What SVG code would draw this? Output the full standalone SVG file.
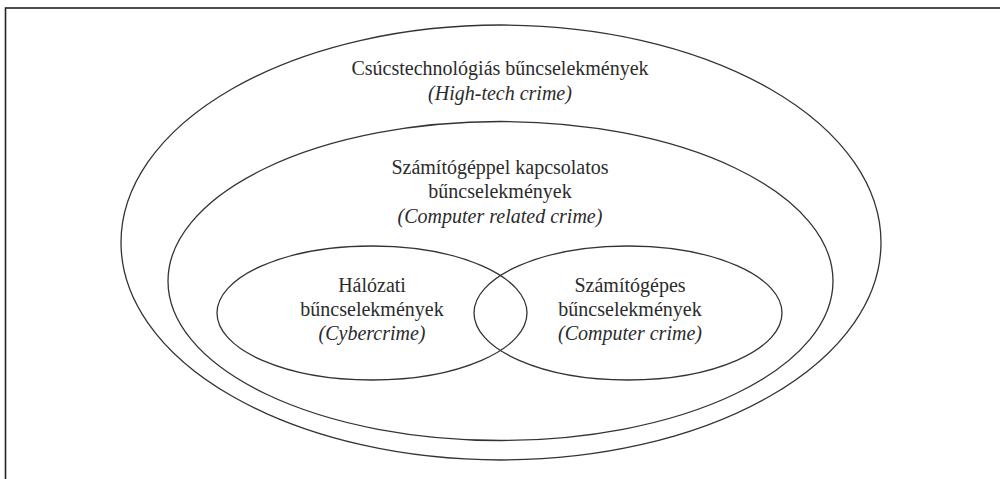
<svg xmlns="http://www.w3.org/2000/svg" width="1000" height="479" viewBox="0 0 1000 479">
<style>
.frame{fill:none;stroke:#222;stroke-width:1.6}
.set{fill:none;stroke:#333;stroke-width:1.3}
.t{font-family:'Liberation Serif','DejaVu Serif',serif;font-size:20px;fill:#2b2b2b;text-anchor:middle}
.it{font-style:italic}
</style>
<rect width="1000" height="479" fill="#fff"/>
<rect class="frame" x="5.5" y="8" width="1010" height="490"/>
<g id="high-tech" font-family="Liberation Serif, DejaVu Serif, serif">
<ellipse class="set" cx="501" cy="242.5" rx="380" ry="217.5"/>
<text class="t" x="500" y="75">Csúcstechnológiás bűncselekmények</text>
<text class="t it" x="500" y="100">(High-tech crime)</text>
</g>
<g id="computer-related" font-family="Liberation Serif, DejaVu Serif, serif">
<ellipse class="set" cx="500.5" cy="281" rx="332.5" ry="159.5"/>
<text class="t" x="500" y="174">Számítógéppel kapcsolatos</text>
<text class="t" x="500" y="198">bűncselekmények</text>
<text class="t it" x="500" y="223">(Computer related crime)</text>
</g>
<g id="cybercrime" font-family="Liberation Serif, DejaVu Serif, serif">
<ellipse class="set" cx="372" cy="313" rx="155" ry="67"/>
<text class="t" x="372" y="292">Hálózati</text>
<text class="t" x="372" y="316">bűncselekmények</text>
<text class="t it" x="372" y="340">(Cybercrime)</text>
</g>
<g id="computer-crime" font-family="Liberation Serif, DejaVu Serif, serif">
<ellipse class="set" cx="628" cy="313" rx="154" ry="67"/>
<text class="t" x="630" y="292">Számítógépes</text>
<text class="t" x="630" y="316">bűncselekmények</text>
<text class="t it" x="630" y="340">(Computer crime)</text>
</g>
<g id="connectors"></g>
</svg>
